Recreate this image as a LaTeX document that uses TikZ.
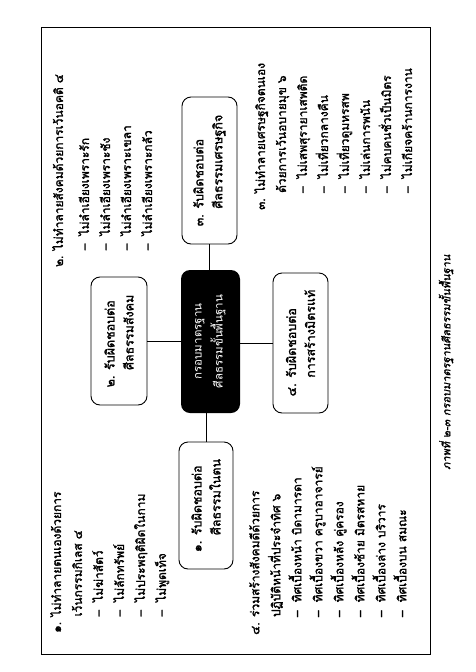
\documentclass[tikz,border=0pt]{standalone}
\usepackage{fontspec}
\setmainfont[Script=Thai]{Loma}
\newfontfamily\thai[Script=Thai]{Loma}
\newfontfamily\thaib[Script=Thai,FakeBold=1.6]{Loma}
\newfontfamily\thaibi[Script=Thai,FakeBold=1.4,FakeSlant=0.18]{Loma}
\begin{document}
\begin{tikzpicture}[x=1pt,y=-1pt,
  grp/.style={rotate=90, align=left, inner sep=0pt, anchor=north west,
    font=\thaib\fontsize{12}{21}\selectfont},
  box/.style={rotate=90, draw, line width=0.9pt, rounded corners=9pt,
    align=left, inner sep=0pt, font=\thaib\fontsize{12.5}{19}\selectfont},
  hub/.style={rotate=90, fill=black, rounded corners=9pt, text=white,
    align=center, inner sep=0pt, font=\thai\fontsize{11.5}{21}\selectfont},
  link/.style={line width=0.8pt}]
\useasboundingbox (0,0) rectangle (476,672);
\draw[line width=0.9pt] (41,27) rectangle (430,654);

\node[hub, minimum width=143pt, minimum height=59pt] (c) at (210.5,341.5)
  {กรอบมาตรฐาน\\ศีลธรรมขั้นพื้นฐาน};
\node[box, minimum width=127pt, minimum height=54pt] (b1) at (206,505.5)
  {๑. รับผิดชอบต่อ\\\phantom{๑. }ศีลธรรมในตน};
\node[box, minimum width=128pt, minimum height=56pt] (b2) at (119,341)
  {๒. รับผิดชอบต่อ\\\phantom{๒. }ศีลธรรมสังคม};
\node[box, minimum width=147pt, minimum height=55pt] (b3) at (209.5,170.5)
  {๓. รับผิดชอบต่อ\\\phantom{๓. }ศีลธรรมเศรษฐกิจ};
\node[box, minimum width=140pt, minimum height=55pt] (b4) at (300.5,343)
  {๔. รับผิดชอบต่อ\\\phantom{๔. }การสร้างมิตรแท้};

\draw[link] (b1.east) -- (b1.east |- c.west);
\draw[link] (b3.west) -- (b3.west |- c.east);
\draw[link] (b2.south) -- (b2.south -| c.north);
\draw[link] (b4.north) -- (b4.north -| c.south);

\node[grp] (g1) at (50,633)
  {๑. ไม่ทำลายตนเองด้วยการ\\
   \phantom{๑. }เว้นกรรมกิเลส ๔\\
   \phantom{๑. }–\ \ ไม่ฆ่าสัตว์\\
   \phantom{๑. }–\ \ ไม่ลักทรัพย์\\
   \phantom{๑. }–\ \ ไม่ประพฤติผิดในกาม\\
   \phantom{๑. }–\ \ ไม่พูดเท็จ};
\node[grp] (g2) at (52,267)
  {๒. ไม่ทำลายสังคมด้วยการเว้นอคติ ๔\\[5pt]
   \phantom{๒. }–\ \ ไม่ลำเอียงเพราะรัก\\
   \phantom{๒. }–\ \ ไม่ลำเอียงเพราะชัง\\
   \phantom{๒. }–\ \ ไม่ลำเอียงเพราะเขลา\\
   \phantom{๒. }–\ \ ไม่ลำเอียงเพราะกลัว};
\node[grp] (g3) at (254,210)
  {๓. ไม่ทำลายเศรษฐกิจตนเอง\\
   \phantom{๓. }ด้วยการเว้นอบายมุข ๖\\
   \phantom{๓. }–\ \ ไม่เสพสุรายาเสพติด\\
   \phantom{๓. }–\ \ ไม่เที่ยวกลางคืน\\
   \phantom{๓. }–\ \ ไม่เที่ยวดูมหรสพ\\
   \phantom{๓. }–\ \ ไม่เล่นการพนัน\\
   \phantom{๓. }–\ \ ไม่คบคนชั่วเป็นมิตร\\
   \phantom{๓. }–\ \ ไม่เกียจคร้านการงาน};
\node[grp] (g4) at (249,635)
  {๔. ร่วมสร้างสังคมดีด้วยการ\\
   \phantom{๔. }ปฏิบัติหน้าที่ประจำทิศ ๖\\
   \phantom{๔. }–\ \ ทิศเบื้องหน้า บิดามารดา\\
   \phantom{๔. }–\ \ ทิศเบื้องขวา ครูบาอาจารย์\\
   \phantom{๔. }–\ \ ทิศเบื้องหลัง คู่ครอง\\
   \phantom{๔. }–\ \ ทิศเบื้องซ้าย มิตรสหาย\\
   \phantom{๔. }–\ \ ทิศเบื้องล่าง บริวาร\\
   \phantom{๔. }–\ \ ทิศเบื้องบน สมณะ};

\node[rotate=90, anchor=west, inner sep=0pt,
  font=\thaibi\fontsize{11}{13}\selectfont] (cap) at (446,470)
  {ภาพที่ ๒-๓ กรอบมาตรฐานศีลธรรมขั้นพื้นฐาน};
\end{tikzpicture}
\end{document}
